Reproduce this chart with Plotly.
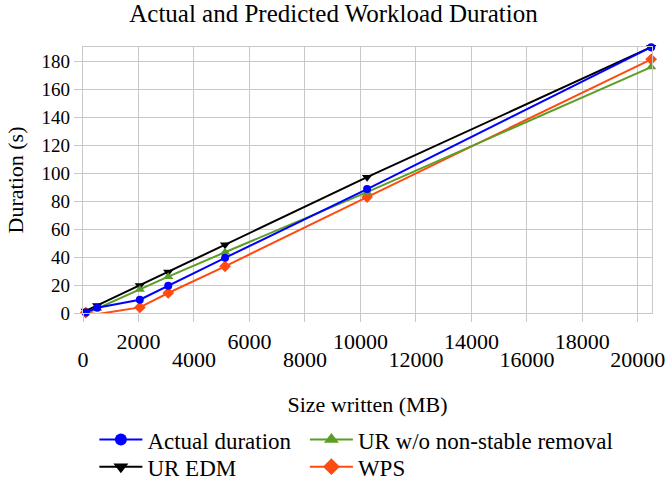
import plotly.graph_objects as go

size_mb = [100, 512, 2048, 3072, 5120, 10240, 20480]
actual = [0.4, 3.8, 9.5, 19.5, 39.5, 88.7, 190.3]
ur_nostable = [-0.5, 3.2, 16.8, 26.0, 43.5, 86.5, 176.0]
ur_edm = [1.5, 5.4, 19.7, 29.3, 48.8, 97.2, 190.3]
wps = [0.3, -0.8, 4.0, 14.3, 33.4, 83.0, 181.6]

x_ticks_upper = [2000, 6000, 10000, 14000, 18000]
x_ticks_lower = [0, 4000, 8000, 12000, 16000, 20000]
y_ticks = [0, 20, 40, 60, 80, 100, 120, 140, 160, 180]

FONT = "Liberation Serif"
GRID = "#c8c8c8"
X_RANGE = [0, 20510]

# name, values, colour, symbol, marker size, legend id
series = [
    ("Actual duration", actual, "#0000ff", "circle", 8, "legend"),
    ("UR w/o non-stable removal", ur_nostable, "#5a9e23", "triangle-up", 9, "legend2"),
    ("UR EDM", ur_edm, "#000000", "triangle-down", 9, "legend3"),
    ("WPS", wps, "#ff4a10", "diamond", 9, "legend4"),
]
draw_order = [3, 2, 1, 0]

fig = go.Figure()
for i in draw_order:
    name, vals, color, sym, msize, lg = series[i]
    fig.add_trace(go.Scatter(
        x=size_mb, y=vals, name=name, mode="lines+markers",
        line=dict(color=color, width=2),
        marker=dict(symbol=sym, size=msize, color=color),
        showlegend=False, cliponaxis=False,
    ))

# legend swatches (larger markers, as in the original legend)
for name, vals, color, sym, msize, lg in series:
    fig.add_trace(go.Scatter(
        x=[None], y=[None], name=name, mode="lines+markers",
        line=dict(color=color, width=2),
        marker=dict(symbol=sym, size=msize + 4, color=color),
        legend=lg, showlegend=True, hoverinfo="skip",
    ))

# invisible carrier trace so the secondary (lower tick row) axis is drawn
fig.add_trace(go.Scatter(x=[None], y=[None], xaxis="x2", yaxis="y",
                         showlegend=False, hoverinfo="skip"))

all_ticks = sorted(x_ticks_upper + x_ticks_lower)
upper_text = [str(v) if v in x_ticks_upper else "" for v in all_ticks]

legend_common = dict(
    orientation="v", yanchor="top", xanchor="left", itemwidth=43,
    font=dict(size=23, family=FONT), bgcolor="rgba(0,0,0,0)",
)
COL1, COL2 = 0.02, 0.39
ROW1, ROW2 = -0.395, -0.497

fig.update_layout(
    width=667, height=482,
    margin=dict(l=83, r=15, t=47, b=169, autoexpand=False),
    paper_bgcolor="white", plot_bgcolor="white",
    font=dict(family=FONT, color="black"),
    title=dict(text="Actual and Predicted Workload Duration", x=0.5, xanchor="center",
               y=0.99, yanchor="top", font=dict(size=25, family=FONT)),
    xaxis=dict(
        range=X_RANGE, tickmode="array", tickvals=all_ticks, ticktext=upper_text,
        showgrid=True, gridcolor=GRID, gridwidth=1.3, automargin=False,
        ticks="outside", ticklen=8, tickcolor=GRID, tickwidth=1.3,
        showline=True, linecolor=GRID, linewidth=1.3, mirror=True,
        zeroline=False, tickfont=dict(size=22, family=FONT),
        title=dict(text="Size written (MB)", font=dict(size=22, family=FONT), standoff=44),
    ),
    xaxis2=dict(
        overlaying="x", anchor="y", side="bottom",
        range=X_RANGE, tickmode="array", tickvals=x_ticks_lower,
        ticktext=[str(v) for v in x_ticks_lower], automargin=False,
        showgrid=False, ticks="", showline=False, zeroline=False,
        tickfont=dict(size=22, family=FONT), ticklabelstandoff=31,
    ),
    yaxis=dict(
        range=[0, 190.4], tickmode="array", tickvals=y_ticks, automargin=False,
        showgrid=True, gridcolor=GRID, gridwidth=1.3,
        ticks="outside", ticklen=8, tickcolor=GRID, tickwidth=1.3,
        showline=True, linecolor=GRID, linewidth=1.3, mirror=True,
        zeroline=False, tickfont=dict(size=19, family=FONT),
        title=dict(text="Duration (s)", font=dict(size=22, family=FONT), standoff=11),
    ),
    legend=dict(x=COL1, y=ROW1, **legend_common),
    legend2=dict(x=COL2, y=ROW1, **legend_common),
    legend3=dict(x=COL1, y=ROW2, **legend_common),
    legend4=dict(x=COL2, y=ROW2, **legend_common),
    showlegend=True,
)
fig.write_html("out.html", config={"displayModeBar": False},
               post_script="document.body.style.margin='0px';")
